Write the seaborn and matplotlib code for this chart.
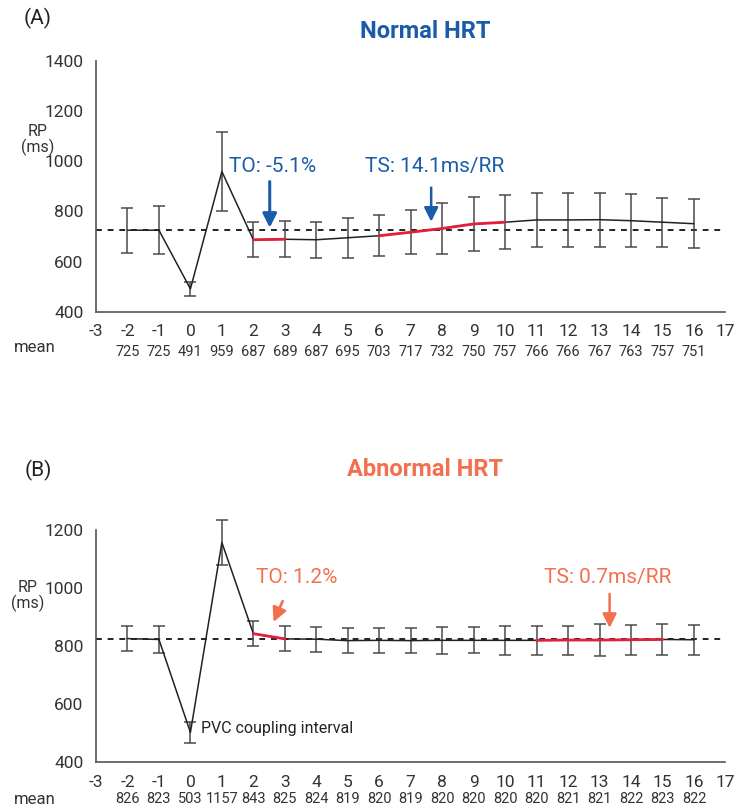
import matplotlib
matplotlib.use("Agg")
import matplotlib.pyplot as plt
import seaborn as sns
import pandas as pd
from matplotlib import font_manager

sns.set_theme(style="white")
fams = {f.name for f in font_manager.fontManager.ttflist}
narrow = "Liberation Sans Narrow" if "Liberation Sans Narrow" in fams else "Roboto"
plt.rcParams["font.family"] = [narrow, "DejaVu Sans"]

# ---------------- data ----------------
beats = list(range(-2, 17))
tick_labels = list(range(-3, 18))

a_mean = [725, 725, 491, 959, 687, 689, 687, 695, 703, 717, 732, 750, 757, 766, 766, 767, 763, 757, 751]
a_sd = [90, 95, 27, 157, 70, 72, 72, 80, 82, 88, 100, 107, 108, 108, 108, 108, 105, 98, 97]
a_baseline = 725
a_to_beats = [2, 3]
a_ts_beats = [6, 7, 8, 9, 10]

b_mean = [826, 823, 503, 1157, 843, 825, 824, 819, 820, 819, 820, 820, 820, 820, 821, 821, 822, 823, 822]
b_sd = [43, 46, 35, 78, 42, 43, 43, 43, 43, 43, 47, 45, 51, 51, 50, 55, 51, 53, 51]
b_baseline = 824.5
b_to_beats = [2, 3]
b_ts_beats = [11, 12, 13, 14, 15]

BLUE = "#1a5ca8"
SALMON = "#f2704f"
RED = "#e0203c"
INK = "#222222"
AXC = "#555555"

fig = plt.figure(figsize=(7.38, 8.10), dpi=100)
W, H = 738, 810


def make_ax(left, top, right, bottom):
    return fig.add_axes([left / W, 1 - bottom / H, (right - left) / W, (bottom - top) / H])


def panel(ax, mean, sd, baseline, to_beats, ts_beats, ylim, yticks):
    df = pd.DataFrame({"beat": beats, "rr": mean, "sd": sd})
    eb = ax.errorbar(df["beat"], df["rr"], yerr=df["sd"], fmt="none", ecolor="#4a4a4a",
                     elinewidth=1.1, capsize=4, capthick=1.1, zorder=2)
    for art in eb.lines[1] + eb.lines[2]:
        art.set_clip_on(False)
    for art in eb.lines[2]:
        art.set_clip_on(False)
    sns.lineplot(data=df, x="beat", y="rr", ax=ax, color=INK, linewidth=1.1, zorder=3)
    for seg in (to_beats, ts_beats):
        sub = df[df["beat"].isin(seg)]
        sns.lineplot(data=sub, x="beat", y="rr", ax=ax, color=RED, linewidth=2.0, zorder=4)
    ax.plot([-3, 17], [baseline, baseline], ls=(0, (3, 3)), color=INK, lw=1.4, zorder=1)
    for ln in ax.lines:
        ln.set_clip_on(False)

    ax.set_xlim(-3, 17.05)
    ax.set_ylim(*ylim)
    ax.set_xticks(tick_labels)
    ax.set_xticklabels([str(t) for t in tick_labels])
    ax.set_yticks(yticks)
    ax.set_xlabel("")
    ax.set_ylabel("")
    for s in ("top", "right"):
        ax.spines[s].set_visible(False)
    for s in ("left", "bottom"):
        ax.spines[s].set_color(AXC)
        ax.spines[s].set_linewidth(1.2)
    ax.spines["bottom"].set_bounds(-3, 17)
    ax.tick_params(axis="x", direction="inout", length=12, width=1.1, color=AXC,
                   labelsize=12.5, labelcolor="#333333", pad=3)
    ax.tick_params(axis="y", direction="out", length=7, width=1.1, color=AXC,
                   labelsize=12.5, labelcolor="#333333", pad=2)
    ax.patch.set_visible(False)
    # mean row
    trans = ax.get_xaxis_transform()
    for b, m in zip(beats, mean):
        ax.text(b, -0.16, str(m), transform=trans, ha="center", va="center",
                fontsize=10.5, color="#333333", clip_on=False)


arrow = lambda c, lw: dict(arrowstyle="-|>,head_width=0.35,head_length=0.7",
                           color=c, lw=lw, shrinkA=0, shrinkB=0)

# ----- Panel A -----
axA = make_ax(96, 61, 727, 311.7)
panel(axA, a_mean, a_sd, a_baseline, a_to_beats, a_ts_beats, (400, 1400),
      [400, 600, 800, 1000, 1200, 1400])
fig.text(38 / W, 1 - 18 / H, "(A)", fontsize=15, color="#222222", ha="center", va="center")
fig.text(425 / W, 1 - 32 / H, "Normal HRT", fontsize=17, fontweight="bold", color=BLUE,
         ha="center", va="center")
fig.text(38 / W, 1 - 140 / H, "RP\n(ms)", fontsize=11.5, color="#333333", ha="center",
         va="center", linespacing=1.0)
fig.text(35 / W, 1 - 348 / H, "mean", fontsize=12, color="#333333", ha="center", va="center")
axA.text(2.6, 979, "TO: -5.1%", color=BLUE, fontsize=15, ha="center", va="center")
axA.annotate("", xy=(2.52, 735), xytext=(2.52, 919), arrowprops=arrow(BLUE, 2.2))
axA.text(7.75, 979, "TS: 14.1ms/RR", color=BLUE, fontsize=15, ha="center", va="center")
axA.annotate("", xy=(7.65, 759), xytext=(7.65, 895), arrowprops=arrow(BLUE, 1.8))

# ----- Panel B -----
axB = make_ax(96, 530, 727, 762.3)
panel(axB, b_mean, b_sd, b_baseline, b_to_beats, b_ts_beats, (400, 1200),
      [400, 600, 800, 1000, 1200])
fig.text(38 / W, 1 - 470 / H, "(B)", fontsize=15, color="#222222", ha="center", va="center")
fig.text(425 / W, 1 - 470 / H, "Abnormal HRT", fontsize=17, fontweight="bold", color=SALMON,
         ha="center", va="center")
fig.text(28 / W, 1 - 596 / H, "RP\n(ms)", fontsize=11.5, color="#333333", ha="center",
         va="center", linespacing=1.0)
fig.text(35 / W, 1 - 799 / H, "mean", fontsize=12, color="#333333", ha="center", va="center")
axB.text(3.37, 1035, "TO: 1.2%", color=SALMON, fontsize=15, ha="center", va="center")
axB.annotate("", xy=(2.64, 883), xytext=(2.93, 955), arrowprops=arrow(SALMON, 2.0))
axB.text(13.26, 1035, "TS: 0.7ms/RR", color=SALMON, fontsize=15, ha="center", va="center")
axB.annotate("", xy=(13.32, 863), xytext=(13.32, 980), arrowprops=arrow(SALMON, 1.8))
axB.text(0.35, 518, "PVC coupling interval", color="#222222", fontsize=11.5, ha="left",
         va="center")

fig.savefig("out.png", dpi=100)
